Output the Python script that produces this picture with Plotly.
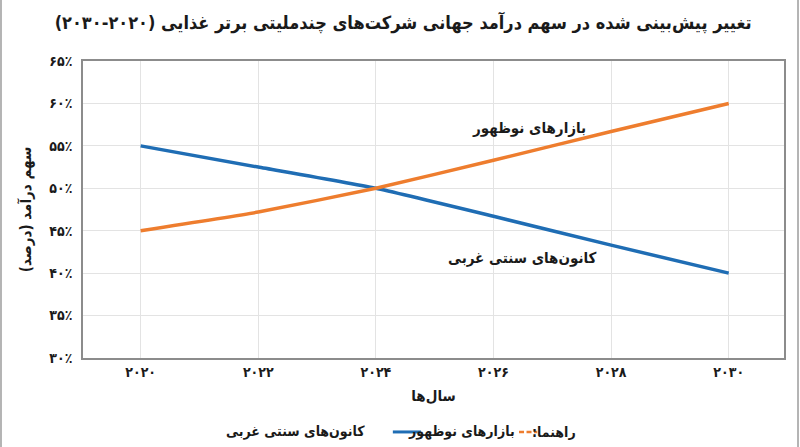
import plotly.graph_objects as go

# data
years = [2020, 2022, 2024, 2026, 2028, 2030]
emerging = [45, 47.2, 50, 53.3, 56.7, 60]
western = [55, 52.5, 50, 46.7, 43.3, 40]

x_labels = ["۲۰۲۰", "۲۰۲۲", "۲۰۲۴", "۲۰۲۶", "۲۰۲۸", "۲۰۳۰"]
y_ticks = [30, 35, 40, 45, 50, 55, 60, 65]
y_labels = ["۳۰٪", "۳۵٪", "۴۰٪", "۴۵٪", "۵۰٪", "۵۵٪", "۶۰٪", "۶۵٪"]

name_emerging = "بازارهای نوظهور"
name_western = "کانون‌های سنتی غربی"
legend_title = "راهنما:\u200f"
title = "تغییر پیش‌بینی شده در سهم درآمد جهانی شرکت‌های چندملیتی برتر غذایی (۲۰۲۰-۲۰۳۰)\u200f"
x_title = "سال‌ها"
y_title = "سهم درآمد (درصد)\u200f"

BLUE = "#1f6db4"
ORANGE = "#ee7d2e"
FONT = "DejaVu Sans Condensed, DejaVu Sans"
TXT = "#1a1a1a"

fig = go.Figure()
fig.add_trace(go.Scatter(x=years, y=western, mode="lines", name=name_western,
                         line=dict(color=BLUE, width=3.5, shape="spline", smoothing=0.4)))
fig.add_trace(go.Scatter(x=years, y=emerging, mode="lines", name=name_emerging,
                         line=dict(color=ORANGE, width=3.5, shape="spline", smoothing=0.4)))

# labels next to the lines
fig.add_annotation(x=2026.6, y=57.15, text=name_emerging, showarrow=False,
                   font=dict(size=15, color=TXT, weight="bold"))
fig.add_annotation(x=2026.5, y=41.8, text=name_western, showarrow=False,
                   font=dict(size=15, color=TXT, weight="bold"))

# hand-made RTL legend under the chart
leg_y = -0.249
fig.add_annotation(xref="paper", yref="paper", x=0.706, y=leg_y, xanchor="right", yanchor="middle",
                   text=legend_title, showarrow=False, font=dict(size=14, color=TXT, weight="bold"))
fig.add_annotation(xref="paper", yref="paper", x=0.619, y=leg_y, xanchor="right", yanchor="middle",
                   text=name_emerging, showarrow=False, font=dict(size=14, color=TXT, weight="bold"))
fig.add_annotation(xref="paper", yref="paper", x=0.405, y=leg_y, xanchor="right", yanchor="middle",
                   text=name_western, showarrow=False, font=dict(size=14, color=TXT, weight="bold"))
fig.add_shape(type="line", xref="paper", yref="paper", x0=0.622, x1=0.648, y0=leg_y, y1=leg_y,
              line=dict(color=ORANGE, width=2.5, dash="5px,2.5px"))
fig.add_shape(type="line", xref="paper", yref="paper", x0=0.442, x1=0.482, y0=leg_y, y1=leg_y,
              line=dict(color=BLUE, width=3))

# thin frame on left and right of the picture
for xp in (-0.117, 1.02):
    fig.add_shape(type="line", xref="paper", yref="paper", x0=xp, x1=xp, y0=-0.31, y1=1.21,
                  line=dict(color="#b4b4b4", width=2))

fig.update_layout(
    width=800, height=447,
    margin=dict(l=83, r=16, t=61, b=89),
    paper_bgcolor="white", plot_bgcolor="white",
    showlegend=False,
    font=dict(family=FONT, color=TXT, weight="bold"),
    title=dict(text=title, x=0.504, xanchor="center", y=0.95, yanchor="middle",
               font=dict(size=18, color=TXT, weight="bold")),
)
fig.update_xaxes(
    range=[2019.02, 2030.94], tickvals=years, ticktext=x_labels,
    tickfont=dict(size=14), ticks="", showgrid=True, gridcolor="#e3e3e3", gridwidth=1,
    showline=True, linecolor="#8c8c8c", linewidth=1.5, mirror=True, zeroline=False,
    title=dict(text=x_title, font=dict(size=15), standoff=12),
)
fig.update_yaxes(
    range=[30, 65], tickvals=y_ticks, ticktext=y_labels,
    tickfont=dict(size=14), ticks="", ticklabelstandoff=6, showgrid=True, gridcolor="#e3e3e3", gridwidth=1,
    showline=True, linecolor="#8c8c8c", linewidth=1.5, mirror=True, zeroline=False,
    title=dict(text=y_title, font=dict(size=15), standoff=14),
)

fig.write_html("out.html", config={"displayModeBar": False},
               post_script="document.body.style.margin='0';")
